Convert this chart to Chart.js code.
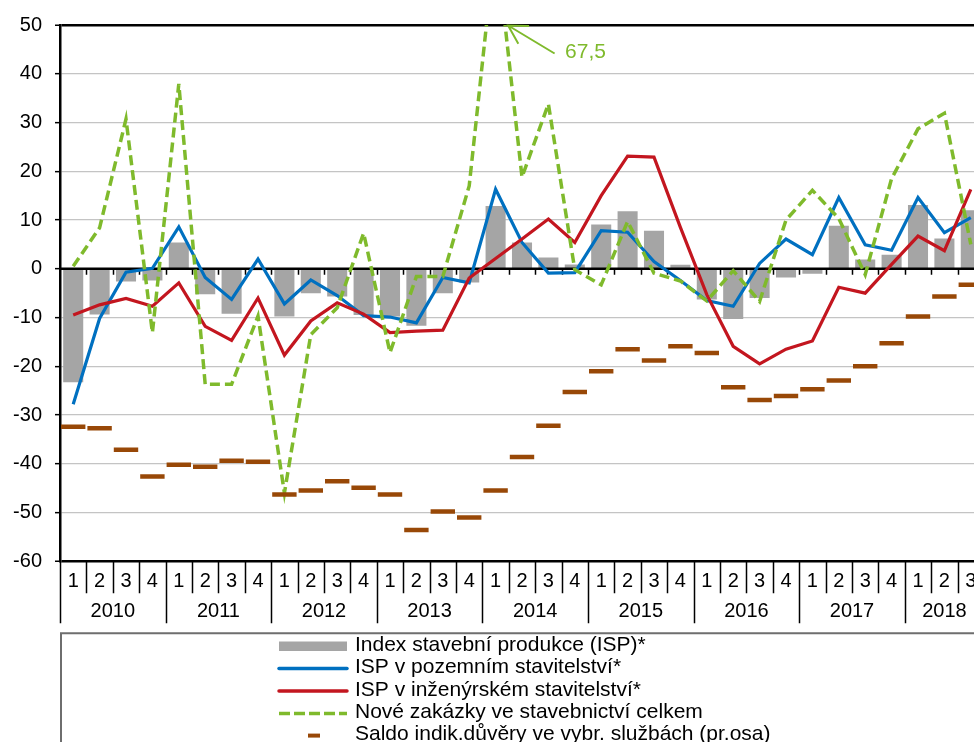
<!DOCTYPE html>
<html>
<head>
<meta charset="utf-8">
<script src="https://cdn.jsdelivr.net/npm/chart.js@4.4.1/dist/chart.umd.min.js"></script>
<style>
 html, body { margin: 0; background: #fff; overflow: hidden; }
 #wrap { position: absolute; left: 0; top: 0; width: 984px; height: 742px; }
 canvas { display: block; width: 984px; height: 742px; }
</style>
</head>
<body>
<div id="wrap"><canvas id="stavChart" width="984" height="742"></canvas></div>
<script>
'use strict';

/*
Data (quarterly, y/y change in %)
*/
const years = ['2010', '2011', '2012', '2013', '2014', '2015', '2016', '2017', '2018']
const quarterTicks = ['1', '2', '3', '4']
const quarterCount = 35

// Index stavební produkce (ISP)*
const ispTotal = [-23.3, -9.4, -2.6, -2.4, 5.4, -5.2, -9.2, -0.3, -9.8, -5.0, -5.7, -9.5, -9.8, -11.7, -5.0, -2.8, 12.9, 5.4, 2.3, 0.9, 9.1, 11.8, 7.8, 0.8, -6.3, -10.3, -6.0, -1.8, -1.0, 8.8, 1.9, 2.9, 13.1, 6.2, 12.0]
// ISP v pozemním stavitelství*
const ispBuilding = [-27.8, -10.2, -0.7, 0.1, 8.6, -1.8, -6.3, 2.0, -7.2, -2.3, -5.5, -9.6, -9.9, -11.1, -1.8, -2.9, 16.3, 5.4, -0.9, -0.8, 7.8, 7.5, 1.5, -2.4, -6.5, -7.7, 1.1, 6.1, 2.9, 14.6, 4.9, 3.8, 14.6, 7.4, 10.5]
// ISP v inženýrském stavitelství*
const ispCivil = [-9.5, -7.4, -6.1, -7.7, -2.9, -11.8, -14.7, -6.0, -17.7, -10.7, -7.0, -9.3, -13.1, -12.8, -12.6, -1.9, 2.1, 6.1, 10.2, 5.4, 15.0, 23.1, 22.9, 8.5, -5.3, -15.9, -19.5, -16.5, -14.8, -3.8, -5.0, 0.9, 6.7, 3.7, 16.3]
// Nové zakázky ve stavebnictví celkem
const newOrders = [0.5, 8.4, 30.7, -13.1, 37.9, -23.7, -23.7, -9.7, -46.0, -13.5, -8.0, 7.3, -17.2, -1.6, -1.6, 17.0, 67.5, 18.8, 33.8, -0.2, -3.3, 9.7, -0.9, -2.5, -6.6, -0.4, -6.7, 10.0, 16.1, 10.3, -1.2, 18.5, 28.7, 31.9, 5.0]
// Saldo indik.důvěry ve vybr. službách (pr.osa) - the right axis has the same range
const servicesConfidence = [-32.4, -32.7, -37.1, -42.6, -40.2, -40.6, -39.4, -39.6, -46.3, -45.5, -43.6, -44.9, -46.3, -53.6, -49.8, -51.0, -45.5, -38.6, -32.2, -25.3, -21.0, -16.5, -18.8, -15.9, -17.3, -24.3, -26.9, -26.1, -24.7, -22.9, -20.0, -15.3, -9.8, -5.7, -3.3]

const yTicks = { min: -60, max: 50, step: 10 }
const peakLabel = '67,5'
const peakIndex = 16

const seriesNames = [
 'Index stavební produkce (ISP)*',
 'ISP v pozemním stavitelství*',
 'ISP v inženýrském stavitelství*',
 'Nové zakázky ve stavebnictví celkem',
 'Saldo indik.důvěry ve vybr. službách (pr.osa)'
]

// category labels "year/quarter"
const categories = years.flatMap(y => quarterTicks.map(q => `${y}/${q}`)).slice(0, quarterCount)

const FONT = '"Liberation Sans", Arial, sans-serif'
const GRAY = '#a5a5a5'
const BLUE = '#0070c0'
const RED = '#c3161f'
const GREEN = '#7fba2c'
const BROWN = '#984807'

// left edge of the plot area (the right part is cut by the window)
const PLOT_LEFT = 60

/*
Plugin drawing the axis at zero, the two-level category axis,
the peak note and the legend box
*/
const decorPlugin = {
 id: 'decor',

 // zero line sits above the bars but below the lines
 afterDatasetDraw: (chart, args) => {
  if (args.index !== 0) return
  const { ctx, chartArea, scales } = chart
  const y0 = scales.y.getPixelForValue(0)
  const step = scales.x.width / quarterCount
  ctx.save()
  ctx.strokeStyle = '#000'
  ctx.lineWidth = 1.5
  ctx.beginPath()
  for (let k = 1; k < quarterCount; k++) {
   const x = Math.round(chartArea.left + k * step) + 0.5
   ctx.moveTo(x, y0)
   ctx.lineTo(x, y0 + 6)
  }
  ctx.stroke()
  ctx.lineWidth = 2.5
  ctx.beginPath()
  ctx.moveTo(chartArea.left, y0)
  ctx.lineTo(chartArea.right, y0)
  ctx.stroke()
  ctx.restore()
 },

 afterDraw: (chart) => {
  const { ctx, chartArea, scales } = chart
  const xs = scales.x
  const ys = scales.y
  const step = xs.width / quarterCount
  const bottom = chartArea.bottom

  ctx.save()

  // separators of the category axis
  ctx.strokeStyle = '#000'
  ctx.lineWidth = 1.5
  ctx.beginPath()
  for (let k = 0; k <= quarterCount; k++) {
   const x = Math.round(chartArea.left + k * step) + 0.5
   ctx.moveTo(x, bottom)
   ctx.lineTo(x, k % 4 === 0 ? bottom + 62 : bottom + 32)
  }
  ctx.stroke()

  // quarter and year labels
  ctx.fillStyle = '#000'
  ctx.font = `20px ${FONT}`
  ctx.textAlign = 'center'
  ctx.textBaseline = 'middle'
  categories.forEach((c, i) => {
   ctx.fillText(c.split('/')[1], xs.getPixelForValue(i), bottom + 20)
  })
  years.forEach((y, j) => {
   const first = j * 4
   const last = Math.min(first + 3, quarterCount - 1)
   const xc = chartArea.left + (first + last + 1) * step / 2
   ctx.fillText(y, xc, bottom + 50.5)
  })

  // note for the value out of range
  const tipX = xs.getPixelForValue(peakIndex) + 12.5
  const tipY = ys.getPixelForValue(yTicks.max) + 0.5
  const endX = tipX + 46.5
  const endY = tipY + 28
  const ang = Math.atan2(endY - tipY, endX - tipX)
  ctx.strokeStyle = GREEN
  ctx.lineWidth = 2
  ctx.beginPath()
  ctx.moveTo(endX, endY)
  ctx.lineTo(tipX, tipY)
  ctx.moveTo(tipX + 21 * Math.cos(ang - 0.52), tipY + 21 * Math.sin(ang - 0.52))
  ctx.lineTo(tipX, tipY)
  ctx.lineTo(tipX + 21 * Math.cos(ang + 0.52), tipY + 21 * Math.sin(ang + 0.52))
  ctx.stroke()
  ctx.fillStyle = GREEN
  ctx.font = `21px ${FONT}`
  ctx.textAlign = 'left'
  ctx.fillText(peakLabel, tipX + 57, tipY + 27)

  // legend box
  const boxTop = bottom + 72
  ctx.strokeStyle = '#6e6e6e'
  ctx.lineWidth = 2
  ctx.beginPath()
  ctx.moveTo(chartArea.left + 1, chart.height)
  ctx.lineTo(chartArea.left + 1, boxTop)
  ctx.lineTo(chart.width, boxTop)
  ctx.stroke()

  const swL = 279
  const swR = 347
  const textX = 355
  const rowY = [646, 668.6, 691, 713.4, 735.6]
  ctx.font = `21px ${FONT}`
  ctx.textAlign = 'left'
  ctx.textBaseline = 'middle'
  seriesNames.forEach((name, i) => {
   const y = rowY[i]
   const ds = chart.data.datasets[i]
   ctx.save()
   if (i === 0) {
    ctx.fillStyle = ds.backgroundColor
    ctx.fillRect(swL, y - 4.5, swR - swL, 9.5)
   } else if (i === 4) {
    ctx.strokeStyle = ds.borderColor
    ctx.lineWidth = 4
    ctx.beginPath()
    ctx.moveTo(308, y)
    ctx.lineTo(320, y)
    ctx.stroke()
   } else {
    ctx.strokeStyle = ds.borderColor
    ctx.lineWidth = 3.5
    ctx.lineCap = i === 3 ? 'butt' : 'round'
    if (i === 3) ctx.setLineDash([11, 4])
    ctx.beginPath()
    ctx.moveTo(swL, y)
    ctx.lineTo(swR, y)
    ctx.stroke()
   }
   ctx.restore()
   ctx.fillStyle = '#000'
   ctx.fillText(name, textX, y - 1)
  })

  ctx.restore()
 }
}

/*
Chart
*/
const gridColor = (c) => {
 const v = c.tick && c.tick.value
 if (v === yTicks.max || v === yTicks.min) return '#000'
 if (v === 0) return 'rgba(0,0,0,0)'
 return '#c4c4c4'
}
const gridWidth = (c) => {
 const v = c.tick && c.tick.value
 return (v === yTicks.max || v === yTicks.min) ? 2.5 : 1.3
}

const config = {
 data: {
  labels: categories,
  datasets: [
   {
    type: 'bar',
    label: seriesNames[0],
    data: ispTotal,
    backgroundColor: GRAY,
    barPercentage: 0.76,
    categoryPercentage: 1,
    order: 5
   },
   {
    type: 'line',
    label: seriesNames[1],
    data: ispBuilding,
    borderColor: BLUE,
    borderWidth: 3.2,
    pointRadius: 0,
    tension: 0,
    order: 4
   },
   {
    type: 'line',
    label: seriesNames[2],
    data: ispCivil,
    borderColor: RED,
    borderWidth: 3.2,
    pointRadius: 0,
    tension: 0,
    order: 3
   },
   {
    type: 'line',
    label: seriesNames[3],
    data: newOrders,
    borderColor: GREEN,
    borderWidth: 3.5,
    borderDash: [10, 5],
    pointRadius: 0,
    tension: 0,
    order: 2
   },
   {
    type: 'line',
    label: seriesNames[4],
    data: servicesConfidence,
    showLine: false,
    pointStyle: 'line',
    pointRadius: 12.2,
    pointBorderWidth: 4.5,
    borderColor: BROWN,
    backgroundColor: BROWN,
    order: 1
   }
  ]
 },
 options: {
  responsive: false,
  maintainAspectRatio: false,
  animation: false,
  // the wide brown dashes must not push the plot area inwards
  layout: { autoPadding: false, padding: { top: 22.3, left: 0, right: 0, bottom: 0 } },
  plugins: {
   legend: { display: false },
   tooltip: { enabled: false },
   title: { display: false }
  },
  scales: {
   x: {
    type: 'category',
    offset: true,
    grid: { display: false },
    border: { display: false },
    ticks: { display: false },
    afterFit: (scale) => { scale.height = 180.7 }
   },
   y: {
    position: 'left',
    min: yTicks.min,
    max: yTicks.max,
    ticks: {
     stepSize: yTicks.step,
     color: '#000',
     padding: 13,
     font: { family: FONT, size: 20 }
    },
    grid: {
     color: gridColor,
     lineWidth: gridWidth,
     tickColor: '#000',
     tickLength: 5,
     tickWidth: 1.5
    },
    border: { display: true, color: '#000', width: 2.5 },
    afterFit: (scale) => { scale.width = PLOT_LEFT }
   }
  }
 },
 plugins: [decorPlugin]
}

// draw it
new Chart(document.getElementById('stavChart'), config)
</script>
</body>
</html>
